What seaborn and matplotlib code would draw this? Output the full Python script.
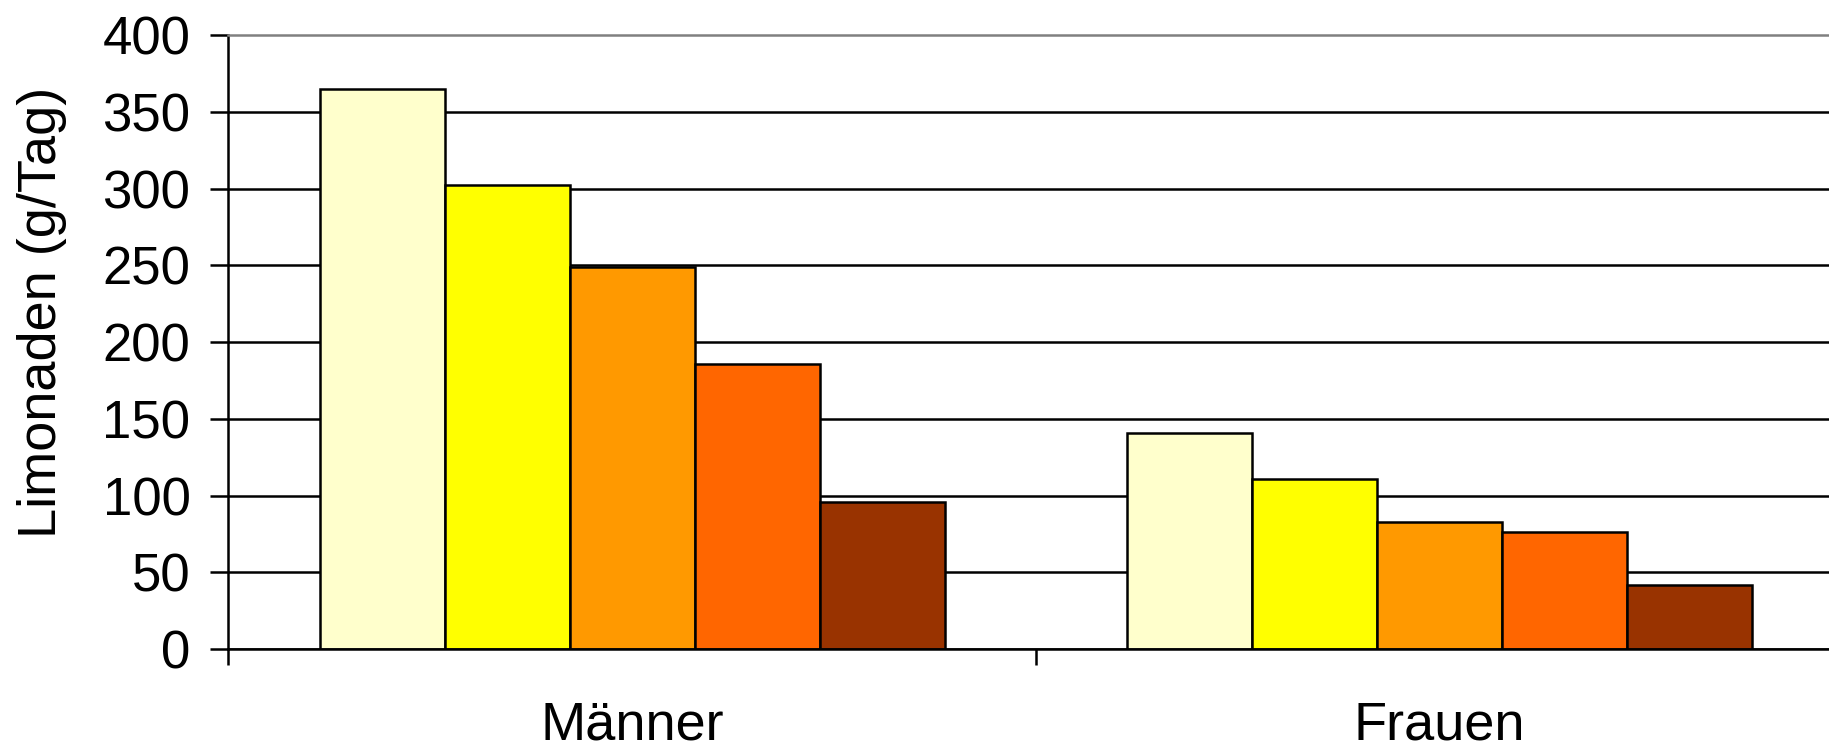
import matplotlib
matplotlib.use("Agg")
import matplotlib.pyplot as plt
import seaborn as sns
import pandas as pd

# Daily lemonade intake (g/day) per group, for men and women
geschlecht = ["Männer", "Frauen"]
gruppen = ["Gruppe 1", "Gruppe 2", "Gruppe 3", "Gruppe 4", "Gruppe 5"]
werte_maenner = [365, 302, 249, 186, 96]
werte_frauen = [141, 111, 83, 76, 42]
farben = ["#FFFFCC", "#FFFF00", "#FF9900", "#FF6600", "#993300"]
y_ticks = [0, 50, 100, 150, 200, 250, 300, 350, 400]
y_titel = "Limonaden (g/Tag)"

df = pd.DataFrame({
    "Geschlecht": [g for g in geschlecht for _ in gruppen],
    "Gruppe": gruppen * len(geschlecht),
    "Wert": werte_maenner + werte_frauen,
})

sns.set_style("white")
plt.rcParams["font.family"] = ["Liberation Sans", "DejaVu Sans"]
plt.rcParams["text.color"] = "black"
plt.rcParams["axes.labelcolor"] = "black"
plt.rcParams["xtick.color"] = "black"
plt.rcParams["ytick.color"] = "black"

LW = 1.8

fig = plt.figure(figsize=(18.29, 7.47), dpi=100)
ax = fig.add_axes([0.1249, 0.1312, 0.883, 0.8219])

sns.barplot(
    data=df, x="Geschlecht", y="Wert", hue="Gruppe",
    order=geschlecht, hue_order=gruppen, palette=farben,
    saturation=1, width=0.774, errorbar=None,
    edgecolor="black", linewidth=LW, legend=False, ax=ax,
)

ax.set_xlim(-0.5, 1.5)
ax.set_ylim(0, 400)
ax.set_axisbelow(True)

# horizontal gridlines; the top edge is drawn by the grey frame instead
ax.set_yticks(y_ticks)
ax.set_yticklabels([str(v) for v in y_ticks])
ax.yaxis.grid(True, color="black", linewidth=LW)
ax.xaxis.grid(False)
ax.get_ygridlines()[-1].set_visible(False)

ax.tick_params(axis="y", direction="out", length=13, width=LW,
               colors="black", pad=14.4, labelsize=38, left=True)

# category separators as major ticks, category names on minor ticks
ax.set_xticks([-0.5, 0.5, 1.5])
ax.set_xticklabels(["", "", ""])
ax.set_xticks([0, 1], minor=True)
ax.set_xticklabels(geschlecht, minor=True)
ax.tick_params(axis="x", which="major", direction="out", length=11.5,
               width=LW, colors="black", bottom=True)
ax.tick_params(axis="x", which="minor", length=0, pad=37, labelsize=39,
               colors="black")

ax.set_xlabel("")
ax.set_ylabel(y_titel, fontsize=39, va="center", color="black")
ax.yaxis.set_label_coords(-0.1152, 0.5475)

for side in ["left", "bottom"]:
    ax.spines[side].set_color("black")
    ax.spines[side].set_linewidth(LW)
for side in ["top", "right"]:
    ax.spines[side].set_color("#808080")
    ax.spines[side].set_linewidth(LW)
    ax.spines[side].set_visible(True)

fig.savefig("out.png", dpi=100, facecolor="white")
